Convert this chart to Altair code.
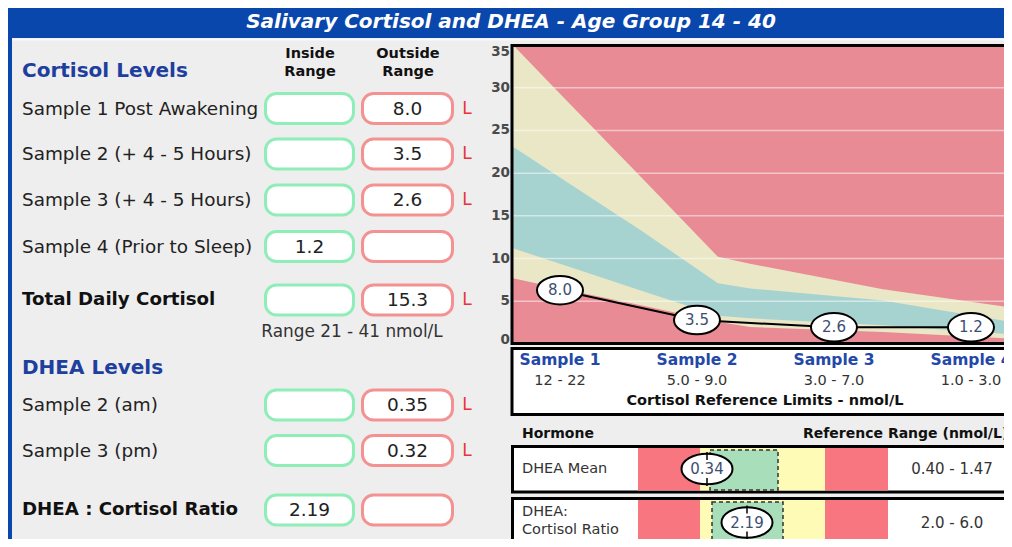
import altair as alt
import pandas as pd

# ---------------- data ----------------
title_text = "Salivary Cortisol and DHEA - Age Group 14 - 40"

cortisol_rows = ["Sample 1 Post Awakening", "Sample 2 (+ 4 - 5 Hours)",
                 "Sample 3 (+ 4 - 5 Hours)", "Sample 4 (Prior to Sleep)"]
cortisol_results = ["8.0", "3.5", "2.6", "1.2"]
cortisol_in_range = [False, False, False, True]
cortisol_flags = ["L", "L", "L", ""]

total_label = "Total Daily Cortisol"
total_result = "15.3"
total_in_range = False
total_flag = "L"
total_note = "Range 21 - 41 nmol/L"

dhea_rows = ["Sample 2 (am)", "Sample 3 (pm)"]
dhea_results = ["0.35", "0.32"]
dhea_in_range = [False, False]
dhea_flags = ["L", "L"]

ratio_label = "DHEA : Cortisol Ratio"
ratio_result = "2.19"
ratio_in_range = True
ratio_flag = ""

sample_names = ["Sample 1", "Sample 2", "Sample 3", "Sample 4"]
sample_index = [1, 2, 3, 4]
sample_limits = ["12 - 22", "5.0 - 9.0", "3.0 - 7.0", "1.0 - 3.0"]
marker_labels = ["8.0", "3.5", "2.6", "1.2"]
marker_level = [6.3, 2.8, 1.95, 1.95]  # where each marker sits on the 0-35 axis

y_ticks = [0, 5, 10, 15, 20, 25, 30, 35]

band_x = [0.657, 1.0, 1.6, 2.153, 2.387, 3.358, 4.32]
outer_high = [35.0, 29.3, 19.4, 10.2, 9.4, 6.4, 4.2]
inner_high = [23.1, 19.5, 13.2, 7.1, 6.5, 5.1, 2.5]
inner_low = [11.2, 9.4, 6.2, 3.3, 3.0, 2.2, 1.1]
outer_low = [7.7, 6.5, 4.5, 2.6, 2.0, 1.4, 0.6]

gauge_rows = ["DHEA Mean", "DHEA:\nCortisol Ratio"]
gauge_ranges = ["0.40 - 1.47", "2.0 - 6.0"]
gauge_results = ["0.34", "2.19"]
gauge_marker = [69, 109]      # marker position along the gauge (0-250)
gauge_ok_lo = [72, 74]
gauge_ok_hi = [140, 145]
gauge_zone_lo = [0, 62, 187]
gauge_zone_hi = [62, 187, 250]
gauge_zone_col = ["#F7767F", "#FDFBB6", "#F7767F"]

# ---------------- layout / styles ----------------
W, H = 996, 531
FONT = "DejaVu Sans"
PX = alt.Scale(domain=[8, 8 + W], range=[0, W], nice=False, zero=False)
PY = alt.Scale(domain=[8, 8 + H], range=[0, H], nice=False, zero=False)
CX = alt.Scale(domain=[0.657, 4.241], range=[505, 996], nice=False, zero=False)
CY = alt.Scale(domain=[0, 35], range=[336, 37], nice=False, zero=False)
GX = alt.Scale(domain=[0, 250], range=[630, 880], nice=False, zero=False)

BLUE = "#0A47AD"
HEAD_BLUE = "#1E3F9E"
MARK_TXT = "#3E4E70"


def ellipse(b):
    k = 0.5523
    return (f"M -1 0 C -1 {-b*k:.4f} {-k} {-b} 0 {-b} C {k} {-b} 1 {-b*k:.4f} 1 0 "
            f"C 1 {b*k:.4f} {k} {b} 0 {b} C {-k} {b} -1 {b*k:.4f} -1 0 Z")


def X(f, s=PX):
    return alt.X(f"{f}:Q", scale=s, axis=None)


def Y(f, s=PY):
    return alt.Y(f"{f}:Q", scale=s, axis=None)


def text_layer(df, size, weight="normal", color="#222222", align="left",
               style="normal", font=FONT, xs=PX, ys=PY, lh=None, baseline="middle"):
    kw = dict(align=align, baseline=baseline, font=font, fontSize=size,
              fontWeight=weight, color=color, fontStyle=style)
    if lh:
        kw.update(lineBreak="\n", lineHeight=lh)
    return alt.Chart(df).mark_text(**kw).encode(
        x=X("x", xs), y=Y("y", ys), text="text:N")


def rect_layer(df, xs=PX, ys=PY, **kw):
    return alt.Chart(df).mark_rect(**kw).encode(
        x=X("x0", xs), x2="x1:Q", y=Y("y0", ys), y2="y1:Q")


layers = []

# title bar and left border
layers.append(rect_layer(pd.DataFrame({"x0": [0], "x1": [1020], "y0": [0], "y1": [38]}), color=BLUE))
layers.append(rect_layer(pd.DataFrame({"x0": [0], "x1": [12], "y0": [38], "y1": [560]}), color=BLUE))
layers.append(alt.Chart(pd.DataFrame({"x0": [12], "x1": [1020], "y": [39.5]})).mark_rule(
    color="#F8F8FF", strokeWidth=2).encode(x=X("x0"), x2="x1:Q", y=Y("y")))
layers.append(text_layer(pd.DataFrame({"x": [511], "y": [22], "text": [title_text]}), 20,
                         weight="bold", style="italic", color="white", align="center"))

# ---------------- left panel ----------------
layers.append(text_layer(pd.DataFrame({"x": [22, 22], "y": [70.5, 368],
                                       "text": ["Cortisol Levels", "DHEA Levels"]}),
                         20, weight="bold", color=HEAD_BLUE))
layers.append(text_layer(pd.DataFrame({"x": [310, 408], "y": [54, 54],
                                       "text": ["Inside\nRange", "Outside\nRange"]}),
                         14.5, weight="bold", color="#111111", align="center", lh=17.5))

row_y = [108.5, 154, 200, 246.5, 300, 405, 450.5, 510]
row_text = cortisol_rows + [total_label] + dhea_rows + [ratio_label]
row_bold = [False] * 4 + [True] + [False] * 2 + [True]
results = cortisol_results + [total_result] + dhea_results + [ratio_result]
in_range = cortisol_in_range + [total_in_range] + dhea_in_range + [ratio_in_range]
flags = cortisol_flags + [total_flag] + dhea_flags + [ratio_flag]

norm = pd.DataFrame({"x": 22, "y": [y for y, b in zip(row_y, row_bold) if not b],
                     "text": [t for t, b in zip(row_text, row_bold) if not b]})
bold = pd.DataFrame({"x": 22, "y": [y for y, b in zip(row_y, row_bold) if b],
                     "text": [t for t, b in zip(row_text, row_bold) if b]})
layers.append(text_layer(norm, 18.4, color="#222222"))
layers.append(text_layer(bold, 18.2, weight="bold", color="#111111"))
layers.append(text_layer(pd.DataFrame({"x": [352], "y": [331.5], "text": [total_note]}),
                         16.9, color="#333333", align="center"))

boxes_in = pd.DataFrame({"x0": 265.5, "x1": 353.5,
                         "y0": [y - 15 for y in row_y], "y1": [y + 15 for y in row_y]})
boxes_out = pd.DataFrame({"x0": 362.5, "x1": 452.5,
                          "y0": [y - 15 for y in row_y], "y1": [y + 15 for y in row_y]})
layers.append(rect_layer(boxes_in, cornerRadius=11, fill="white", stroke="#8FEDB8", strokeWidth=3))
layers.append(rect_layer(boxes_out, cornerRadius=11, fill="white", stroke="#F49191", strokeWidth=3))
vals = pd.DataFrame({"x": [309.5 if i else 407.5 for i in in_range], "y": row_y, "text": results})
layers.append(text_layer(vals, 18.5, color="#222222", align="center"))
fl = pd.DataFrame({"x": 467, "y": [y for y, f in zip(row_y, flags) if f],
                   "text": [f for f in flags if f]})
layers.append(text_layer(fl, 17, color="#E8333A", align="center"))

# ---------------- cortisol chart ----------------
bands = pd.DataFrame({"x": band_x, "oh": outer_high, "ih": inner_high,
                      "il": inner_low, "ol": outer_low, "top": 35.0, "bot": 0.0})
layers.append(alt.Chart(bands).mark_area(color="#E98B94", opacity=1).encode(
    x=X("x", CX), y=Y("bot", CY), y2="top:Q"))
layers.append(alt.Chart(bands).mark_area(color="#E9E7C6", opacity=1).encode(
    x=X("x", CX), y=Y("ol", CY), y2="oh:Q"))
layers.append(alt.Chart(bands).mark_area(color="#A6D2D0", opacity=1).encode(
    x=X("x", CX), y=Y("il", CY), y2="ih:Q"))

grid = pd.DataFrame({"v": [t for t in y_ticks if 0 < t < 35], "x0": 0.657, "x1": 4.32})
layers.append(alt.Chart(grid).mark_rule(color="#FFFFFF", opacity=0.5, strokeWidth=1.5).encode(
    x=X("x0", CX), x2="x1:Q", y=Y("v", CY)))

layers.append(rect_layer(pd.DataFrame({"x0": [512], "x1": [1030], "y0": [45.5], "y1": [343.5]}),
                         fill=None, fillOpacity=0, stroke="#000000", strokeWidth=3))

ticks = pd.DataFrame({"x": 510, "y": y_ticks, "text": [str(t) for t in y_ticks]})
mid = ticks[(ticks.y > 0) & (ticks.y < 35)]
layers.append(text_layer(mid, 13.5, weight="bold", color="#4A4A4A", align="right", ys=CY))
layers.append(text_layer(ticks[ticks.y == 35], 13.5, weight="bold", color="#4A4A4A",
                         align="right", ys=CY, baseline="top"))
layers.append(text_layer(ticks[ticks.y == 0], 13.5, weight="bold", color="#4A4A4A",
                         align="right", ys=CY, baseline="alphabetic"))

marks = pd.DataFrame({"i": sample_index, "v": marker_level, "text": marker_labels})
layers.append(alt.Chart(marks).mark_line(color="#000000", strokeWidth=2).encode(
    x=X("i", CX), y=Y("v", CY)))
layers.append(alt.Chart(marks).mark_point(shape=ellipse(0.62), size=46 * 46, filled=True,
                                          fill="white", stroke="#000000", strokeWidth=2,
                                          opacity=1).encode(x=X("i", CX), y=Y("v", CY)))
layers.append(alt.Chart(marks).mark_text(font=FONT, fontSize=15, color=MARK_TXT,
                                         align="center", baseline="middle").encode(
    x=X("i", CX), y=Y("v", CY), text="text:N"))

# sample box
layers.append(rect_layer(pd.DataFrame({"x0": [512], "x1": [1030], "y0": [348.5], "y1": [414.5]}),
                         fill="white", stroke="#000000", strokeWidth=3))
layers.append(text_layer(pd.DataFrame({"x": sample_index, "y": 360, "text": sample_names}),
                         15.5, weight="bold", color="#2448A8", align="center", xs=CX))
layers.append(text_layer(pd.DataFrame({"x": sample_index, "y": 381, "text": sample_limits}),
                         14.5, color="#333333", align="center", xs=CX))
layers.append(text_layer(pd.DataFrame({"x": [765], "y": [401],
                                       "text": ["Cortisol Reference Limits - nmol/L"]}),
                         14.5, weight="bold", color="#111111", align="center"))

# ---------------- DHEA gauges ----------------
layers.append(text_layer(pd.DataFrame({"x": [522, 803], "y": [434, 434],
                                       "text": ["Hormone", "Reference Range (nmol/L)"]}),
                         14, weight="bold", color="#111111"))
g_top = [446.5, 498.5]
g_bot = [492.0, 545.5]
g_mid = [469, 522.5]
layers.append(rect_layer(pd.DataFrame({"x0": 512.5, "x1": 1030, "y0": g_top, "y1": g_bot}),
                         fill="white", stroke="#000000", strokeWidth=3))
zones = pd.DataFrame([{"x0": lo, "x1": hi, "y0": t + 1.5, "y1": b - 1.5, "c": c}
                      for t, b in zip(g_top, g_bot)
                      for lo, hi, c in zip(gauge_zone_lo, gauge_zone_hi, gauge_zone_col)])
layers.append(alt.Chart(zones).mark_rect().encode(
    x=X("x0", GX), x2="x1:Q", y=Y("y0"), y2="y1:Q", color=alt.Color("c:N", scale=None)))
ok = pd.DataFrame({"x0": gauge_ok_lo, "x1": gauge_ok_hi, "y0": [450, 502], "y1": [490, 541]})
layers.append(rect_layer(ok, xs=GX, fill="#A9DEBB", stroke="#333333", strokeWidth=1.5,
                         strokeDash=[4, 3]))
gm = pd.DataFrame({"g": gauge_marker, "y": g_mid, "text": gauge_results,
                   "t0": [y - 17 for y in g_mid], "t1": [y - 9 for y in g_mid],
                   "b0": [y + 9 for y in g_mid], "b1": [y + 17 for y in g_mid]})
layers.append(alt.Chart(gm).mark_point(shape=ellipse(0.6), size=51 * 51, filled=True,
                                       fill="white", stroke="#000000", strokeWidth=2,
                                       opacity=1).encode(x=X("g", GX), y=Y("y")))
layers.append(alt.Chart(gm).mark_rule(color="#000000", strokeWidth=1.5).encode(
    x=X("g", GX), y=Y("t0"), y2="t1:Q"))
layers.append(alt.Chart(gm).mark_rule(color="#000000", strokeWidth=1.5).encode(
    x=X("g", GX), y=Y("b0"), y2="b1:Q"))
layers.append(alt.Chart(gm).mark_text(font=FONT, fontSize=15, color=MARK_TXT, align="center",
                                      baseline="middle").encode(
    x=X("g", GX), y=Y("y"), text="text:N"))
layers.append(text_layer(pd.DataFrame({"x": 522, "y": [469, 511.5], "text": gauge_rows}),
                         14.5, color="#333333", lh=18.5))
layers.append(text_layer(pd.DataFrame({"x": 952, "y": g_mid, "text": gauge_ranges}),
                         15, color="#333333", align="center"))

chart = alt.layer(*layers).resolve_scale(x="independent", y="independent").properties(
    width=W, height=H, padding=0, background="#EEEEEE",
    autosize=alt.AutoSizeParams(type="none"),
).configure_view(stroke=None)

chart.save("out.html", embed_options={"renderer": "svg", "actions": False})
